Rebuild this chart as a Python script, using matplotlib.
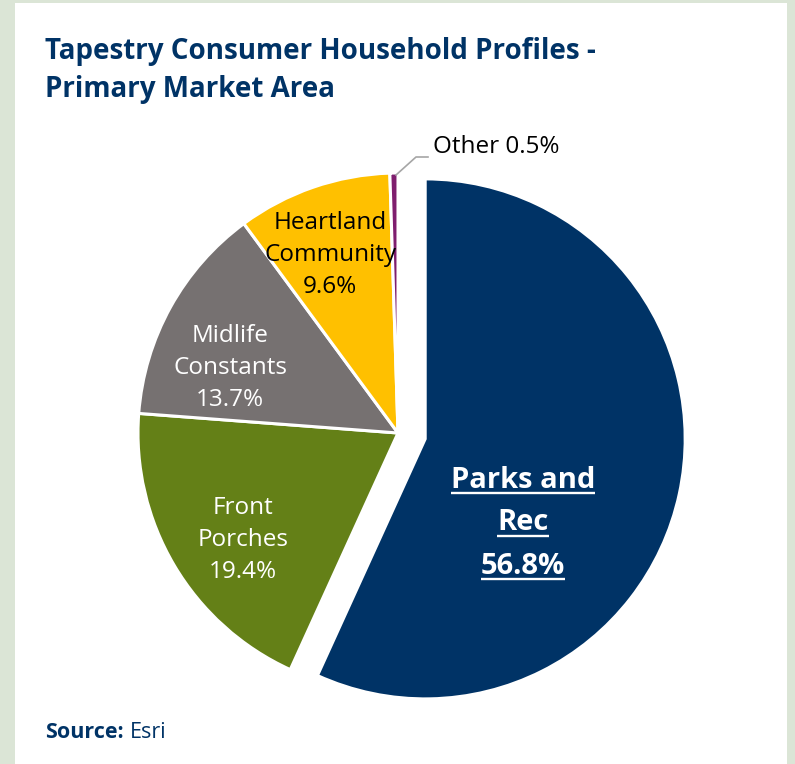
import matplotlib.pyplot as plt
from matplotlib.patches import Rectangle
import numpy as np

plt.rcParams['font.family'] = ['Open Sans', 'DejaVu Sans']

segments = ['Parks and Rec', 'Front Porches', 'Midlife Constants', 'Heartland Community', 'Other']
shares = [56.8, 19.4, 13.7, 9.6, 0.5]
colors = ['#003366', '#648017', '#767171', '#ffc000', '#7f1e6e']
explode = [0.107, 0, 0, 0, 0]

navy = '#003366'

fig = plt.figure(figsize=(7.95, 7.64), dpi=100)
fig.patch.set_facecolor('#dbe5d6')
fig.add_artist(Rectangle((15 / 795, 0), 772 / 795, 761 / 764, transform=fig.transFigure,
                         facecolor='white', edgecolor='none', zorder=0))

# pie axes: centre at (398, 433) px, radius 260 px
R = 260.0
cx, cy = 398, 764 - 433
half = 330
ax = fig.add_axes([(cx - half) / 795, (cy - half) / 764, 2 * half / 795, 2 * half / 764])
ax.axis('off')

wedges, _ = ax.pie(shares, explode=explode, colors=colors, startangle=90, counterclock=False,
                   radius=1, wedgeprops=dict(edgecolor='white', linewidth=2.2))
ax.set_aspect('equal')
ax.set_xlim(-half / R, half / R)
ax.set_ylim(-half / R, half / R)

lab_size = 17.5
lab_space = 1.45
ax.text(-68 / R, 178 / R, 'Heartland\nCommunity\n%.1f%%' % shares[3], ha='center', va='center',
        color='black', fontsize=lab_size, linespacing=lab_space)
ax.text(-168 / R, 65 / R, 'Midlife\nConstants\n%.1f%%' % shares[2], ha='center', va='center',
        color='white', fontsize=lab_size, linespacing=lab_space)
ax.text(-155 / R, -107 / R, 'Front\nPorches\n%.1f%%' % shares[1], ha='center', va='center',
        color='white', fontsize=lab_size, linespacing=lab_space)

# bold underlined label on the big slice
fig.canvas.draw()
renderer = fig.canvas.get_renderer()
for i, line in enumerate(['Parks and', 'Rec', '%.1f%%' % shares[0]]):
    t = ax.text(125 / R, (-47 - 43 * i) / R, line, ha='center', va='center', color='white',
                fontsize=21, fontweight='bold')
    bb = t.get_window_extent(renderer).transformed(ax.transData.inverted())
    ax.plot([bb.x0, bb.x1], [bb.y0 + 0.004, bb.y0 + 0.004], color='white', lw=1.7,
            solid_capstyle='butt')

# small slice callout
ax.plot(np.array([-2, 18, 30]) / R, np.array([258, 276, 276]) / R, color='#a6a6a6', lw=1.2)
ax.text(35 / R, 286 / R, 'Other %.1f%%' % shares[4], ha='left', va='center', color='black',
        fontsize=lab_size)

fig.text(45 / 795, 1 - 52 / 764, 'Tapestry Consumer Household Profiles -', ha='left', va='center',
         color=navy, fontsize=20, fontweight='bold')
fig.text(45 / 795, 1 - 90 / 764, 'Primary Market Area', ha='left', va='center',
         color=navy, fontsize=20, fontweight='bold')

src = fig.text(45 / 795, 1 - 733 / 764, 'Source:', ha='left', va='center', color=navy,
               fontsize=15.5, fontweight='bold')
bb = src.get_window_extent(renderer)
fig.text((bb.x1 + 6) / 795, 1 - 733 / 764, 'Esri', ha='left', va='center', color=navy, fontsize=15.5)

fig.savefig('out.png', dpi=100)
